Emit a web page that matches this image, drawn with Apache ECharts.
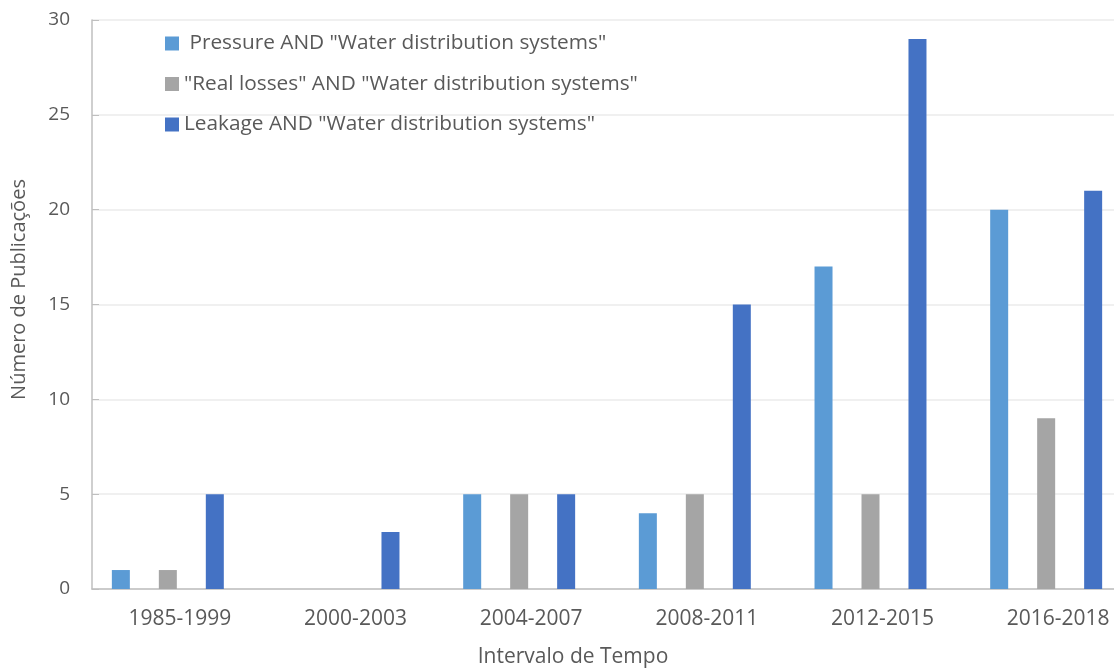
<!DOCTYPE html>
<html>
<head>
<meta charset="utf-8">
<script src="https://cdn.jsdelivr.net/npm/echarts@6/dist/echarts.min.js"></script>
<style>
  html, body { margin: 0; padding: 0; background: #fff; }
  #chart { width: 1114px; height: 671px; }
</style>
</head>
<body>
<div id="chart"></div>
<script>
const categories = ['1985-1999', '2000-2003', '2004-2007', '2008-2011', '2012-2015', '2016-2018'];
const pressure = [1, 0, 5, 4, 17, 20];
const realLosses = [1, 0, 5, 5, 5, 9];
const leakage = [5, 3, 5, 15, 29, 21];
const yTicks = { min: 0, max: 30, interval: 5 };

const font = 'Open Sans';
const textColor = '#595959';
const axisColor = '#BFBFBF';

function barSeries(name, data, color) {
  return {
    name: name,
    type: 'bar',
    xAxisIndex: 1,
    yAxisIndex: 1,
    data: data,
    barWidth: 18,
    barGap: '161%',
    itemStyle: { color: color },
    emphasis: { disabled: true }
  };
}

const chart = echarts.init(document.getElementById('chart'));
chart.setOption({
  animation: false,
  textStyle: { fontFamily: font },
  grid: [
    // axes grid, last category runs past the right edge
    { left: 92, width: 1054, top: 20, bottom: 82, outerBoundsMode: 'none' },
    // bars sit a little left of the category centres, as in the original
    { left: 80, width: 1054, top: 20, bottom: 82, outerBoundsMode: 'none' }
  ],
  legend: {
    orient: 'vertical',
    left: 165,
    top: 33,
    padding: 0,
    itemWidth: 14,
    itemHeight: 14,
    itemGap: 19.5,
    icon: 'rect',
    textStyle: { color: textColor, fontSize: 20.8, fontFamily: font, lineHeight: 20 },
    data: [' Pressure AND "Water distribution systems"', '"Real losses" AND "Water distribution systems"', 'Leakage AND "Water distribution systems"']
  },
  xAxis: [
    {
      gridIndex: 0,
      type: 'category',
      data: categories,
      name: 'Intervalo de Tempo',
      nameLocation: 'middle',
      nameGap: 58,
      nameTextStyle: { color: textColor, fontSize: 21, padding: [0, 92, 0, 0] },
      axisLine: { lineStyle: { color: axisColor, width: 1.5 } },
      axisTick: { inside: true, length: 7, lineStyle: { color: axisColor } },
      axisLabel: { color: textColor, fontSize: 21, margin: 20 }
    },
    {
      gridIndex: 1,
      type: 'category',
      data: categories,
      show: false
    }
  ],
  yAxis: [
    {
      gridIndex: 0,
      type: 'value',
      min: yTicks.min,
      max: yTicks.max,
      interval: yTicks.interval,
      name: 'Número de Publicações',
      nameLocation: 'middle',
      nameGap: 63,
      nameTextStyle: { color: textColor, fontSize: 20, padding: [0, 0, 0, 30] },
      axisLine: { show: true, lineStyle: { color: axisColor, width: 1.5 } },
      axisTick: { show: true, inside: true, length: 7, lineStyle: { color: axisColor } },
      axisLabel: { color: textColor, fontSize: 19, margin: 22 },
      splitLine: { lineStyle: { color: '#EBEBEB', width: 1.5 } }
    },
    {
      gridIndex: 1,
      type: 'value',
      min: yTicks.min,
      max: yTicks.max,
      interval: yTicks.interval,
      show: false,
      splitLine: { show: false }
    }
  ],
  series: [
    barSeries(' Pressure AND "Water distribution systems"', pressure, '#5B9BD5'),
    barSeries('"Real losses" AND "Water distribution systems"', realLosses, '#A5A5A5'),
    barSeries('Leakage AND "Water distribution systems"', leakage, '#4472C4')
  ]
});
</script>
</body>
</html>
